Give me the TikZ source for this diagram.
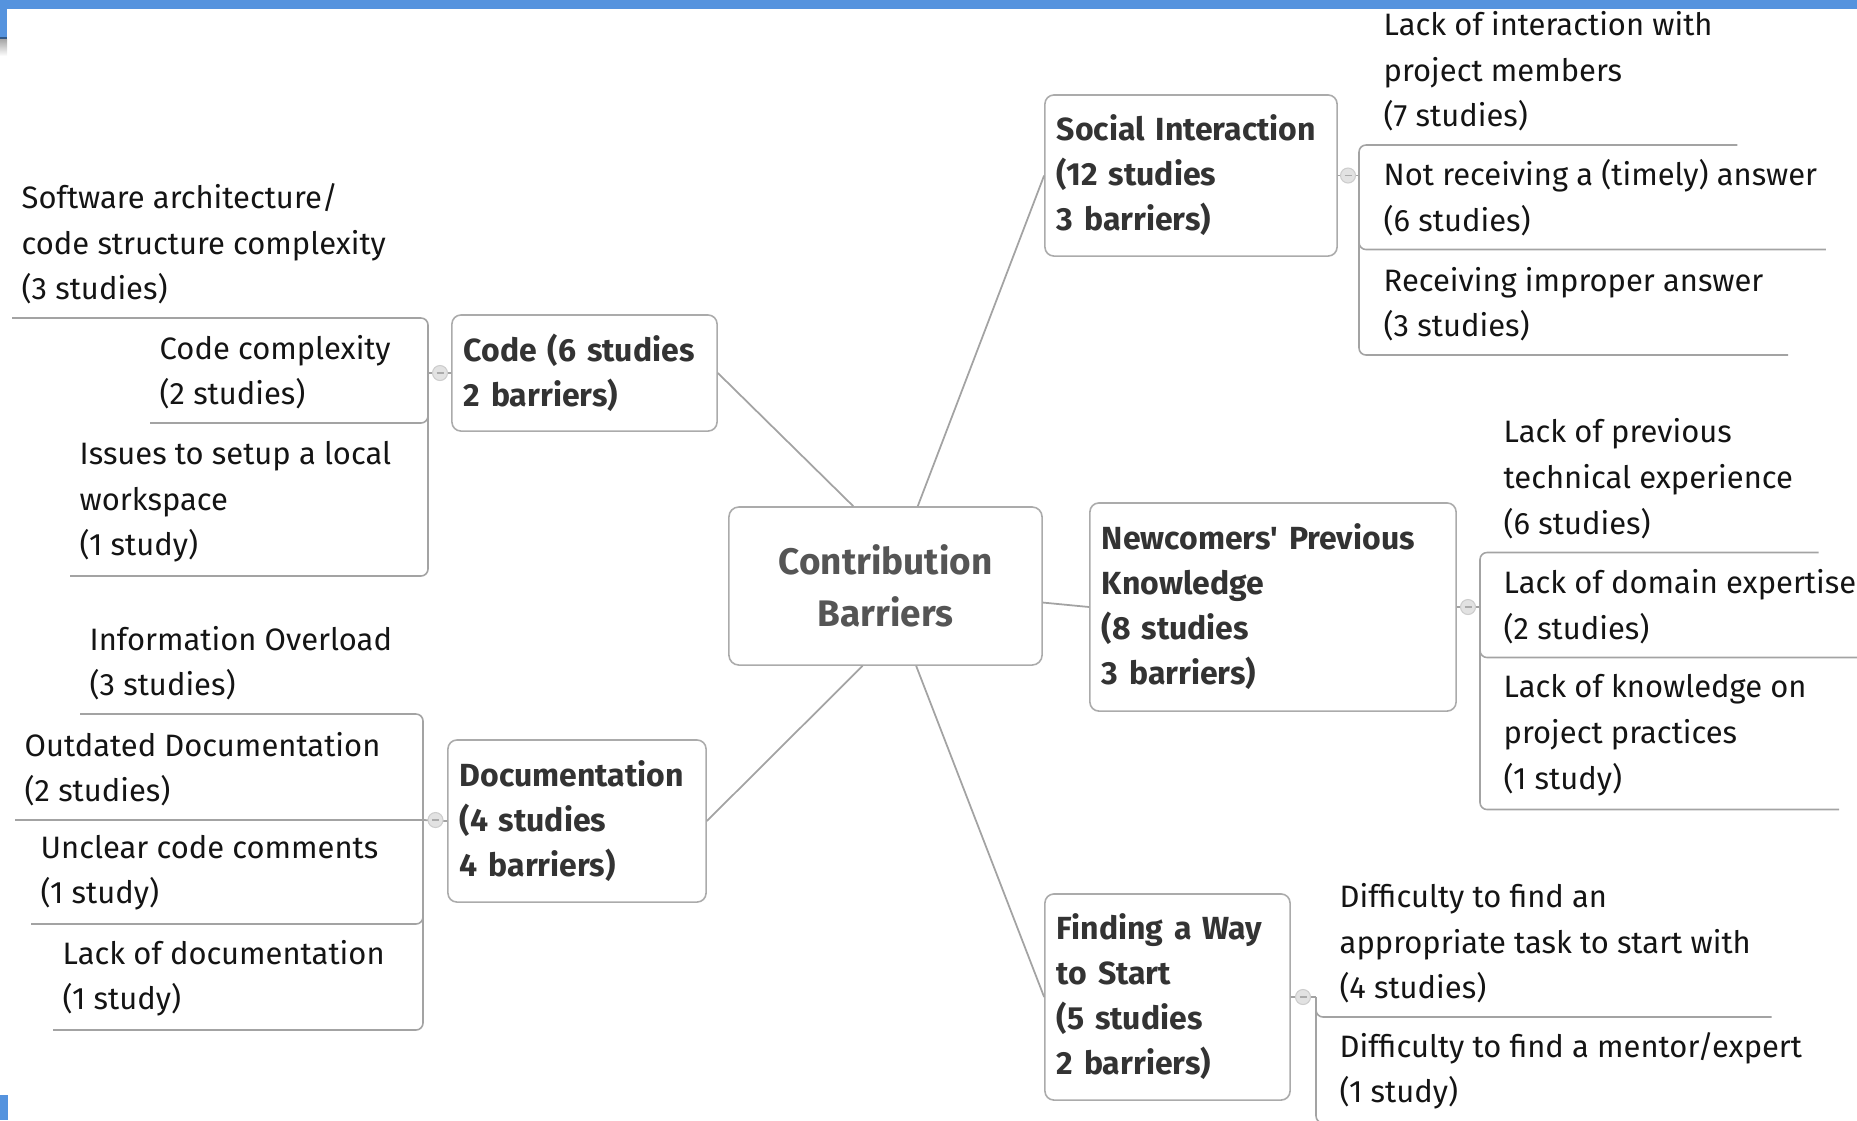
\documentclass[tikz,border=0pt]{standalone}
\usepackage{fontspec}
\setmainfont{Fira Sans}
\usepackage{xcolor}
\usetikzlibrary{calc}
\definecolor{barblue}{HTML}{5593DE}
\definecolor{boxgray}{HTML}{ABABAB}
\definecolor{linegray}{HTML}{A3A3A3}
\definecolor{dotgray}{HTML}{E2E2E2}
\definecolor{titlegray}{HTML}{555555}
\definecolor{branchink}{HTML}{333333}
\definecolor{leafink}{HTML}{141414}

\begin{document}
\begin{tikzpicture}[
  x=0.01cm,
  y=-0.01cm,
  every node/.style={leafink},
  central/.style={draw=boxgray, line width=0.45pt, rounded corners=0.1cm,
                  fill=white, text=titlegray, align=center,
                  font=\fontsize{10.5}{14.8}\selectfont\bfseries,
                  minimum width=3.13cm, minimum height=1.58cm},
  branch/.style={draw=boxgray, line width=0.45pt, rounded corners=0.09cm,
                 fill=white, text=branchink, align=left, inner xsep=0.12cm,
                 font=\fontsize{9.1}{12.8}\selectfont\bfseries},
  leaf/.style={font=\fontsize{8.8}{13}\selectfont, align=left,
               inner xsep=0pt, inner ysep=0.13cm, anchor=south west},
  link/.style={linegray, line width=0.5pt},
  tree/.style={linegray, line width=0.45pt, rounded corners=0.07cm},
  fold/.style={circle, draw=boxgray!60, fill=dotgray, line width=0.3pt,
               minimum size=0.15cm, inner sep=0pt,
               path picture={\draw[boxgray, line width=0.3pt]
                 ([xshift=-0.035cm]path picture bounding box.center) --
                 ([xshift=0.035cm]path picture bounding box.center);}}
]
  \useasboundingbox (0,0) rectangle (1857,1120);

  %% ---- window frame ------------------------------------------------------
  \fill[barblue] (0,0) rectangle (1857,9);
  \fill[barblue] (0,9) rectangle (7,37);
  \fill[barblue!60!black] (0,37) rectangle (7,39);
  \shade[top color=black!35, bottom color=white] (0,39) rectangle (7,56);
  \fill[barblue] (0,1095) rectangle (8,1120);

  %% ---- centre and branches -----------------------------------------------
  \node[central] (central) at (885.5,586) {Contribution\\Barriers};

  \node[branch, text width=2.41cm, minimum height=1.16cm] (code)
    at (584.5,373) {Code (6 studies\\2 barriers)};
  \node[branch, text width=2.34cm, minimum height=1.62cm] (docu)
    at (577,821) {Documentation\\(4 studies\\4 barriers)};
  \node[branch, text width=2.68cm, minimum height=1.61cm] (social)
    at (1191,175.5) {Social Interaction\\(12 studies\\3 barriers)};
  \node[branch, text width=3.42cm, minimum height=2.08cm] (newcomers)
    at (1273,607) {Newcomers\textquotesingle\ Previous\\Knowledge\\(8 studies\\3 barriers)};
  \node[branch, text width=2.21cm, minimum height=2.06cm] (finding)
    at (1167.5,997) {Finding a Way\\to Start\\(5 studies\\2 barriers)};

  \draw[link] (code.east) -- (central.112);
  \draw[link] (central.68) -- (social.west);
  \draw[link] (central.-6) -- (newcomers.west);
  \draw[link] (central.254) -- (docu.east);
  \draw[link] (central.291) -- (finding.west);

  %% ---- Code --------------------------------------------------------------
  \coordinate (codebar) at (428,373);
  \node[leaf] (k1) at (21,318) {Software architecture/\\code structure complexity\\(3 studies)};
  \node[leaf] (k2) at (159,423) {Code complexity\\(2 studies)};
  \node[leaf] (k3) at (79,576) {Issues to setup a local\\workspace\\(1 study)};
  \draw[tree] ($(k1.south west)+(-9,0)$) -| (codebar) |- ($(k3.south west)+(-9,0)$);
  \draw[tree] (codebar) |- ($(k2.south west)+(-9,0)$);
  \draw[link] (code.west) -- (codebar);
  \node[fold] (codefold) at (440,373) {};

  %% ---- Documentation -----------------------------------------------------
  \coordinate (docubar) at (423,820);
  \node[leaf] (d1) at (89,714) {Information Overload\\(3 studies)};
  \node[leaf] (d2) at (24,820) {Outdated Documentation\\(2 studies)};
  \node[leaf] (d3) at (40,924) {Unclear code comments\\(1 study)};
  \node[leaf] (d4) at (62,1030) {Lack of documentation\\(1 study)};
  \draw[tree] ($(d1.south west)+(-9,0)$) -| (docubar) |- ($(d4.south west)+(-9,0)$);
  \draw[tree] (docubar) -- ($(d2.south west)+(-9,0)$);
  \draw[tree] (docubar) |- ($(d3.south west)+(-9,0)$);
  \draw[link] (docu.west) -- (docubar);
  \node[fold] (docufold) at (435.5,820) {};

  %% ---- Social Interaction ------------------------------------------------
  \coordinate (socialbar) at (1359,175.5);
  \node[leaf] (s1) at (1383,145) {Lack of interaction with\\project members\\(7 studies)};
  \node[leaf] (s2) at (1383,249.5) {Not receiving a (timely) answer\\(6 studies)};
  \node[leaf] (s3) at (1383,355) {Receiving improper answer\\(3 studies)};
  \draw[tree] ($(s1.south east)+(24,0)$) -| (socialbar) |- ($(s3.south east)+(24,0)$);
  \draw[tree] (socialbar) |- ($(s2.south east)+(8,0)$);
  \draw[link] (social.east) -- (socialbar);
  \node[fold] (socialfold) at (1348,175.5) {};

  %% ---- Newcomers' Previous Knowledge -------------------------------------
  \coordinate (newbar) at (1480,607);
  \node[leaf] (n1) at (1503,552.5) {Lack of previous\\technical experience\\(6 studies)};
  \node[leaf] (n2) at (1503,657.5) {Lack of domain expertise\\(2 studies)};
  \node[leaf] (n3) at (1503,809.5) {Lack of knowledge on\\project practices\\(1 study)};
  \draw[tree] ($(n1.south east)+(25,0)$) -| (newbar) |- ($(n3.south east)+(32,0)$);
  \draw[tree] (newbar) |- ($(n2.south east)+(25,0)$);
  \draw[link] (newcomers.east) -- (newbar);
  \node[fold] (newfold) at (1468,607) {};

  %% ---- Finding a Way to Start --------------------------------------------
  \coordinate (findbar) at (1316,997);
  \node[leaf] (f1) at (1339,1017) {Difficulty to find an\\appropriate task to start with\\(4 studies)};
  \node[leaf] (f2) at (1339,1123) {Difficulty to find a mentor/expert\\(1 study)};
  \draw[tree] (findbar) |- ($(f1.south east)+(20,0)$);
  \draw[tree] (findbar) |- ($(f2.south east)+(20,0)$);
  \draw[link] (finding.east) -- (findbar);
  \node[fold] (findfold) at (1303,997) {};
\end{tikzpicture}
\end{document}
